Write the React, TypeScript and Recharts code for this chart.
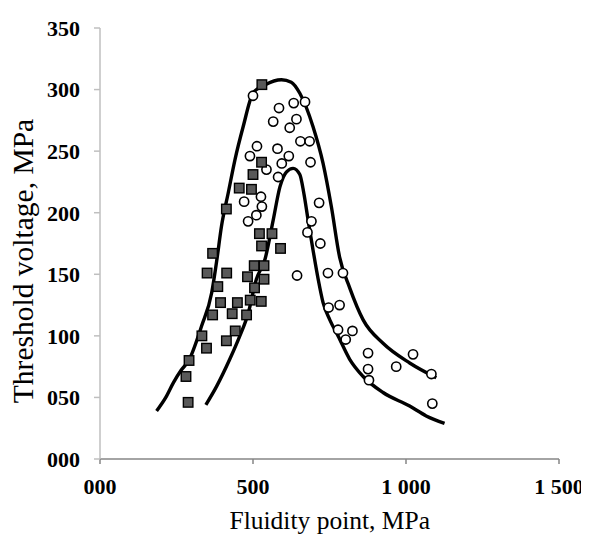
import React from 'react';
import { ComposedChart, XAxis, YAxis, Scatter, Line } from 'recharts';

const squareX = [288, 281, 291, 333, 348, 350, 385, 368, 394, 414, 413, 432, 442, 449, 479, 482, 491, 505, 504, 536, 527, 536, 529, 528, 500, 495, 455, 413, 368, 521, 562, 528, 590];
const squareY = [46, 67, 80, 100, 90, 151, 140, 117, 127, 151, 96, 118, 104, 127, 117, 148, 129, 139, 157, 146, 128, 157, 304, 241, 231, 219, 220, 203, 167, 183, 183, 173, 171];

const circleX = [500, 585, 633, 670, 566, 642, 620, 513, 490, 580, 655, 685, 617, 594, 544, 688, 582, 526, 471, 529, 511, 484, 716, 691, 678, 720, 644, 745, 794, 747, 783, 778, 825, 803, 876, 876, 879, 968, 1023, 1083, 1086];
const circleY = [295, 285, 289, 290, 274, 276, 269, 254, 246, 252, 258, 258, 246, 240, 235, 241, 229, 213, 209, 205, 198, 193, 208, 193, 184, 175, 149, 151, 151, 123, 125, 105, 104, 97, 86, 73, 64, 75, 85, 69, 45];

const outerX = [185, 215, 240, 265, 290, 332, 365, 382, 397, 419, 441, 468, 500, 540, 593, 625, 653, 696, 729, 756, 783, 816, 860, 925, 1012, 1099];
const outerY = [39, 50, 62, 72, 80, 108, 135, 162, 189, 216, 243, 270, 297, 304, 308, 306, 297, 270, 240, 205, 164, 139, 113, 94, 78, 66];

const innerX = [346, 381, 424, 457, 484, 511, 539, 566, 588, 609, 631, 653, 666, 680, 696, 713, 729, 751, 778, 816, 860, 925, 1012, 1066, 1126];
const innerY = [44, 59, 81, 100, 118, 146, 162, 194, 221, 233, 236, 231, 216, 194, 170, 146, 127, 113, 100, 81, 67, 54, 43, 35, 29];

const xTicks = [0, 500, 1000, 1500];
const yTicks = [0, 50, 100, 150, 200, 250, 300, 350];

const zip = (xs: number[], ys: number[]) => xs.map((x, i) => ({ x, y: ys[i] }));
const squares = zip(squareX, squareY);
const circles = zip(circleX, circleY);
const outer = zip(outerX, outerY);
const inner = zip(innerX, innerY);

const serif = '"Liberation Serif", "Times New Roman", serif';

const fmtX = (v: number) => {
  if (v === 0) return '000';
  if (v >= 1000) {
    const t = Math.floor(v / 1000);
    const r = String(v % 1000).padStart(3, '0');
    return `${t} ${r}`;
  }
  return String(v).padStart(3, '0');
};
const fmtY = (v: number) => String(v).padStart(3, '0');

const SquareShape = (props: any) => {
  const { cx, cy } = props;
  const s = 9.5;
  return <rect x={cx - s / 2} y={cy - s / 2} width={s} height={s} fill="#595959" stroke="#000" strokeWidth={1.4} />;
};
const CircleShape = (props: any) => {
  const { cx, cy } = props;
  return <circle cx={cx} cy={cy} r={4.6} fill="#fff" stroke="#000" strokeWidth={1.6} />;
};

export default function App() {
  return (
    <div style={{ width: 581, height: 527 }}>
      <ComposedChart width={581} height={527} margin={{ top: 20, right: 30, bottom: 36, left: 32 }}>
        <XAxis
          type="number"
          dataKey="x"
          domain={[0, 1500]}
          ticks={xTicks}
          tickFormatter={fmtX}
          height={40}
          axisLine={{ stroke: '#868686', strokeWidth: 1.5 }}
          tickLine={{ stroke: '#868686', strokeWidth: 1.5 }}
          tickSize={5}
          tickMargin={14}
          tick={{ fill: '#000', fontSize: 22, fontWeight: 700, fontFamily: serif }}
          allowDataOverflow
        />
        <YAxis
          type="number"
          dataKey="y"
          domain={[0, 350]}
          ticks={yTicks}
          tickFormatter={fmtY}
          width={60}
          axisLine={{ stroke: '#bfbfbf', strokeWidth: 1.5 }}
          tickLine={{ stroke: '#bfbfbf', strokeWidth: 1.5 }}
          tickSize={6}
          tickMargin={14}
          tick={{ fill: '#000', fontSize: 22, fontWeight: 700, fontFamily: serif }}
          allowDataOverflow
        />
        <Line data={outer} dataKey="y" type="monotone" stroke="#000" strokeWidth={3.4} dot={false} activeDot={false} isAnimationActive={false} />
        <Line data={inner} dataKey="y" type="monotone" stroke="#000" strokeWidth={3.4} dot={false} activeDot={false} isAnimationActive={false} />
        <Scatter data={circles} dataKey="y" shape={CircleShape} isAnimationActive={false} />
        <Scatter data={squares} dataKey="y" shape={SquareShape} isAnimationActive={false} />
        <text x={321.75} y={521} textAnchor="middle" fontSize={25.5} fontFamily={serif} fill="#000">Fluidity point, MPa</text>
        <text transform="translate(25,253) rotate(-90)" textAnchor="middle" fontSize={29.5} fontFamily={serif} fill="#000">Threshold voltage, MPa</text>
      </ComposedChart>
    </div>
  );
}
